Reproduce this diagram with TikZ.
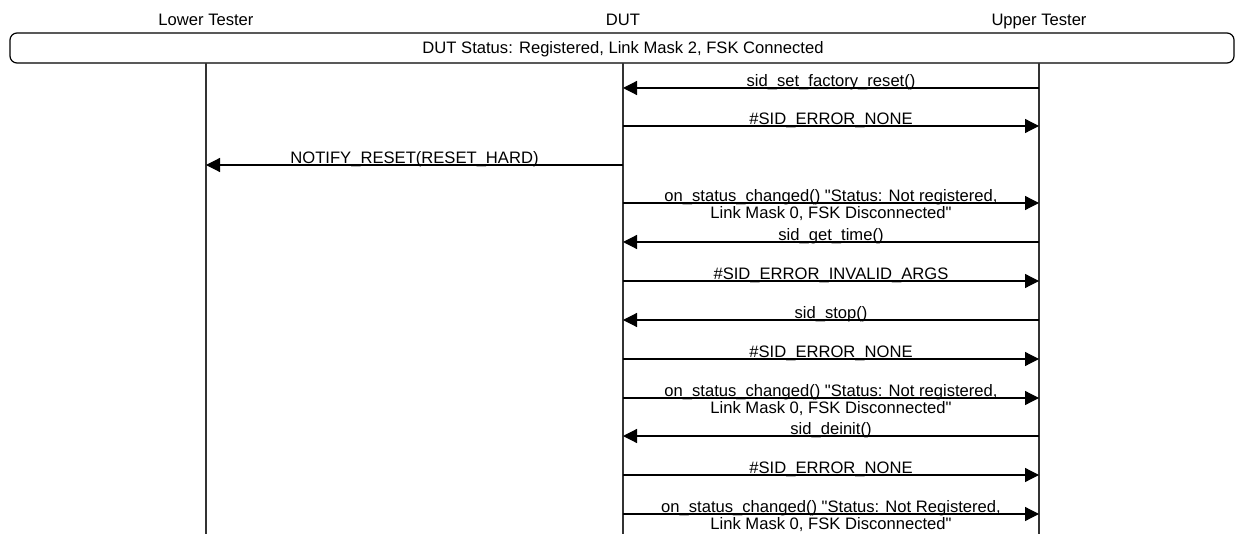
\documentclass[tikz,border=0pt]{standalone}
\usepackage{fontspec}
\setmainfont{Liberation Sans}
\usetikzlibrary{arrows.meta}
\tikzset{
  actor/.style={anchor=base, font=\fontsize{16.6}{17}\selectfont},
  life/.style={line width=1.3pt, black!80},
  msg/.style={line width=1.2pt, -{Triangle[length=14pt,width=14pt]}},
  lbl/.style={midway, anchor=base, yshift=1.5pt, inner sep=0pt, font=\fontsize{16.6}{17}\selectfont}
}
\newcommand{\twoline}[2]{\begin{tabular}[t]{@{}c@{}}#1\\#2\end{tabular}}
\newcommand{\qt}{\textquotedbl}
\begin{document}
\begin{tikzpicture}[x=1pt, y=-1pt]
 \useasboundingbox (0,0) rectangle (1236,534);
 % actors
 \node[actor] (lt) at (206,26) {Lower Tester};
 \node[actor] (dut) at (623,26) {DUT};
 \node[actor] (ut) at (1039,26) {Upper Tester};
 % status box
 \draw[line width=1.2pt, rounded corners=7pt] (10,33) rectangle (1234,63);
 \node[actor] (status) at (623,54) {DUT Status: Registered, Link Mask 2, FSK Connected};
 % lifelines
 \foreach \a/\x in {lt/206, dut/623, ut/1039} {
   \coordinate (\a-top) at (\x,63);
   \coordinate (\a-bot) at (\x,534);
   \draw[life] (\a-top) -- (\a-bot);
 }
 % message rows
 \foreach \i/\y in {1/88, 2/126, 3/165, 4/203, 5/242, 6/281, 7/320, 8/359, 9/398, 10/436, 11/475, 12/514} {
   \coordinate (lt\i) at (206,\y);
   \coordinate (dut\i) at (623,\y);
   \coordinate (ut\i) at (1039,\y);
 }
 \draw[msg] (ut1) -- node[lbl] {sid\_set\_factory\_reset()} (dut1);
 \draw[msg] (dut2) -- node[lbl] {\#SID\_ERROR\_NONE} (ut2);
 \draw[msg] (dut3) -- node[lbl] {NOTIFY\_RESET(RESET\_HARD)} (lt3);
 \draw[msg] (dut4) -- node[lbl] {\twoline{on\_status\_changed() \qt Status: Not registered,}{Link Mask 0, FSK Disconnected\qt}} (ut4);
 \draw[msg] (ut5) -- node[lbl] {sid\_get\_time()} (dut5);
 \draw[msg] (dut6) -- node[lbl] {\#SID\_ERROR\_INVALID\_ARGS} (ut6);
 \draw[msg] (ut7) -- node[lbl] {sid\_stop()} (dut7);
 \draw[msg] (dut8) -- node[lbl] {\#SID\_ERROR\_NONE} (ut8);
 \draw[msg] (dut9) -- node[lbl] {\twoline{on\_status\_changed() \qt Status: Not registered,}{Link Mask 0, FSK Disconnected\qt}} (ut9);
 \draw[msg] (ut10) -- node[lbl] {sid\_deinit()} (dut10);
 \draw[msg] (dut11) -- node[lbl] {\#SID\_ERROR\_NONE} (ut11);
 \draw[msg] (dut12) -- node[lbl] {\twoline{on\_status\_changed() \qt Status: Not Registered,}{Link Mask 0, FSK Disconnected\qt}} (ut12);
\end{tikzpicture}
\end{document}
